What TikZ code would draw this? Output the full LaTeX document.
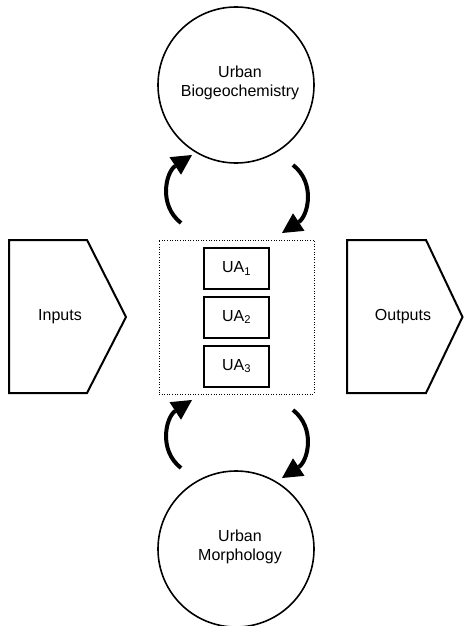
\documentclass[tikz,border=0pt]{standalone}
\usepackage{fontspec}
\setmainfont{Liberation Sans}
\usetikzlibrary{arrows.meta}
\begin{document}
\begin{tikzpicture}[x=1pt,y=-1pt,
  lbl/.style={font=\fontsize{16}{19}\selectfont, align=center, inner sep=0pt},
  sphere/.style={draw, circle, line width=1.6pt, minimum size=156pt, inner sep=0pt},
  uabox/.style={draw, line width=2pt, minimum width=65pt, minimum height=41pt,
    inner sep=0pt, font=\fontsize{16}{19}\selectfont},
  flow/.style={draw, line width=2pt, line join=miter},
  group/.style={draw, line width=0.9pt, dash pattern=on 1pt off 1.6pt,
    minimum width=155pt, minimum height=154pt, inner sep=0pt},
  loop/.style={line width=4pt, -{Triangle[length=20pt,width=21pt,line width=0pt]}},
]
\useasboundingbox (0,0) rectangle (464,626);

% the two drivers
\node[sphere] (bio) at (236,85) {};
\node[lbl] (biotext) at (240,83) {Urban\\Biogeochemistry};
\node[sphere] (morph) at (236,549) {};
\node[lbl] (morphtext) at (240,547) {Urban\\Morphology};

% inputs and outputs
\draw[flow] (9,240) -- (87,240) -- (126,317) -- (87,393) -- (9,393) -- cycle;
\node[lbl, anchor=base] (inputs) at (60,320) {Inputs};
\draw[flow] (347,240) -- (426,240) -- (462.5,317) -- (426,393) -- (347,393) -- cycle;
\node[lbl, anchor=base] (outputs) at (403,320) {Outputs};

% urban areas
\node[group] (areas) at (236.5,317) {};
\node[uabox] (ua1) at (236.5,268.5) {UA\textsubscript{1}};
\node[uabox] (ua2) at (236.5,317) {UA\textsubscript{2}};
\node[uabox] (ua3) at (236.5,366) {UA\textsubscript{3}};

% feedback loops
\coordinate (tlS) at (181,223);
\coordinate (tlE) at (192,155);
\coordinate (trS) at (293,165);
\coordinate (trE) at (282,233);
\coordinate (blS) at (181,468);
\coordinate (blE) at (192,400);
\coordinate (brS) at (293,410);
\coordinate (brE) at (282,478);
\draw[loop] (tlS) .. controls (158,205) and (166,172) .. (tlE);
\draw[loop] (trS) .. controls (316,183) and (308,216) .. (trE);
\draw[loop] (blS) .. controls (158,450) and (166,417) .. (blE);
\draw[loop] (brS) .. controls (316,428) and (308,461) .. (brE);
\end{tikzpicture}
\end{document}
